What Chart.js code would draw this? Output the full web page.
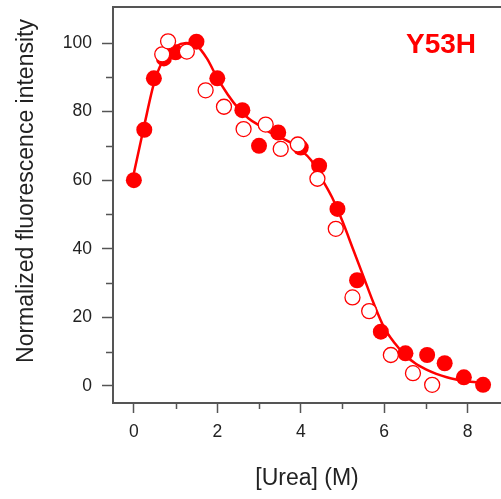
<!DOCTYPE html>
<html>
<head>
<meta charset="utf-8">
<script src="https://cdn.jsdelivr.net/npm/chart.js@4/dist/chart.umd.min.js"></script>
<style>
  html, body { margin: 0; padding: 0; background: #fff; }
  #wrap { width: 501px; height: 499px; }
</style>
</head>
<body>
<div id="wrap"><canvas id="ureaChart"></canvas></div>
<script>
// measured points, filled symbols
const filledUrea = [0, 0.25, 0.48, 0.72, 1.0, 1.5, 2.0, 2.6, 3.0, 3.46, 4.0, 4.44, 4.88, 5.35, 5.92, 6.51, 7.03, 7.45, 7.91, 8.37];
const filledIntensity = [60, 74.7, 89.7, 95.5, 97.3, 100.4, 89.7, 80.4, 70, 73.9, 69.5, 64.2, 51.6, 30.8, 15.8, 9.5, 9.0, 6.6, 2.5, 0.3];

// measured points, open symbols
const openUrea = [0.68, 0.82, 1.27, 1.72, 2.16, 2.63, 3.16, 3.52, 3.93, 4.4, 4.84, 5.24, 5.64, 6.16, 6.69, 7.15];
const openIntensity = [96.7, 100.5, 97.5, 86.2, 81.4, 74.9, 76.2, 69.1, 70.4, 60.4, 45.8, 25.8, 21.8, 9.0, 3.7, 0.3];

// fitted curve
const fitUrea = [0, 0.25, 0.5, 0.75, 1.0, 1.25, 1.5, 1.75, 2.0, 2.25, 2.5, 2.75, 3.0, 3.25, 3.5, 3.75, 4.0, 4.25, 4.5, 4.75, 5.0, 5.25, 5.5, 5.75, 6.0, 6.25, 6.5, 6.75, 7.0, 7.25, 7.5, 7.75, 8.0, 8.25, 8.4];
const fitIntensity = [62, 76, 89, 96, 99, 100, 99.3, 95.5, 89.8, 85, 81, 78, 76, 74, 72.5, 71, 68.8, 65.8, 60.5, 55, 48, 40, 32, 24, 17, 12.5, 9, 6.5, 4.8, 3.5, 2.5, 1.8, 1.3, 1.0, 0.8];

const xTicks = [0, 2, 4, 6, 8];
const xMinorTicks = [1, 3, 5, 7];
const yTicks = [0, 20, 40, 60, 80, 100];
const yMinorTicks = [10, 30, 50, 70, 90];
const label = 'Y53H';
const yTitle = 'Normalized fluorescence intensity';

const red = '#ff0000';
const axisColor = '#555555';
const textColor = '#222222';
const fontFamily = '"Liberation Sans", Arial, sans-serif';

function toPoints(xs, ys) {
    return xs.map((x, i) => ({ x: x, y: ys[i] }));
}

// top frame line, minor ticks, y title and the Y53H label
const extras = {
    id: 'extras',
    afterDraw(chart) {
        const { ctx, chartArea, scales } = chart;
        ctx.save();
        ctx.strokeStyle = axisColor;
        ctx.lineWidth = 2;
        ctx.beginPath();
        ctx.moveTo(chartArea.left - 1, chartArea.top);
        ctx.lineTo(chartArea.right, chartArea.top);
        ctx.stroke();

        ctx.lineWidth = 1.5;
        ctx.beginPath();
        xMinorTicks.forEach(v => {
            const px = Math.round(scales.x.getPixelForValue(v)) + 0.5;
            ctx.moveTo(px, chartArea.bottom);
            ctx.lineTo(px, chartArea.bottom + 6);
        });
        yMinorTicks.forEach(v => {
            const py = Math.round(scales.y.getPixelForValue(v)) + 0.5;
            ctx.moveTo(chartArea.left, py);
            ctx.lineTo(chartArea.left - 7, py);
        });
        ctx.stroke();

        ctx.fillStyle = red;
        ctx.font = 'bold 28px ' + fontFamily;
        ctx.textAlign = 'center';
        ctx.textBaseline = 'middle';
        ctx.fillText(label, chartArea.right - 60, chartArea.top + 38);

        ctx.fillStyle = textColor;
        ctx.font = '23px ' + fontFamily;
        ctx.translate(27, 191);
        ctx.rotate(-Math.PI / 2);
        ctx.fillText(yTitle, 0, 0);
        ctx.restore();
    }
};

new Chart(document.getElementById('ureaChart'), {
    type: 'scatter',
    data: {
        datasets: [
            {
                label: 'open',
                data: toPoints(openUrea, openIntensity),
                pointRadius: 7.5,
                pointBackgroundColor: '#ffffff',
                pointBorderColor: red,
                pointBorderWidth: 1.3,
                order: 0
            },
            {
                label: 'filled',
                data: toPoints(filledUrea, filledIntensity),
                pointRadius: 8,
                pointBackgroundColor: red,
                pointBorderColor: red,
                pointBorderWidth: 0,
                order: 1
            },
            {
                label: 'fit',
                data: toPoints(fitUrea, fitIntensity),
                showLine: true,
                pointRadius: 0,
                borderColor: red,
                borderWidth: 2.5,
                cubicInterpolationMode: 'monotone',
                order: 2
            }
        ]
    },
    options: {
        responsive: true,
        maintainAspectRatio: false,
        animation: false,
        layout: { autoPadding: false, padding: { top: 7, right: 0, left: 0, bottom: 0 } },
        plugins: {
            legend: { display: false },
            tooltip: { enabled: false }
        },
        scales: {
            x: {
                type: 'linear',
                min: -0.5,
                max: 8.8,
                afterBuildTicks: scale => { scale.ticks = xTicks.map(v => ({ value: v })); },
                afterFit: scale => {
                    scale.height = 96;
                    scale.paddingLeft = 0;
                    scale.paddingRight = 0;
                },
                grid: { drawOnChartArea: false, tickLength: 10, tickColor: axisColor, tickWidth: 1.5 },
                border: { color: axisColor, width: 2 },
                ticks: {
                    color: textColor,
                    padding: 9,
                    maxRotation: 0,
                    font: { family: fontFamily, size: 17.5 }
                },
                title: {
                    display: true,
                    text: '[Urea] (M)',
                    color: textColor,
                    font: { family: fontFamily, size: 23 },
                    padding: { top: 0, bottom: 7 }
                }
            },
            y: {
                type: 'linear',
                min: -5,
                max: 110.5,
                afterBuildTicks: scale => { scale.ticks = yTicks.map(v => ({ value: v })); },
                afterFit: scale => {
                    scale.width = 113;
                    scale.paddingTop = 0;
                    scale.paddingBottom = 0;
                },
                grid: { drawOnChartArea: false, tickLength: 11, tickColor: axisColor, tickWidth: 1.5 },
                border: { color: axisColor, width: 2 },
                ticks: {
                    color: textColor,
                    padding: 10,
                    font: { family: fontFamily, size: 17.5 }
                }
            }
        }
    },
    plugins: [extras]
});
</script>
</body>
</html>
